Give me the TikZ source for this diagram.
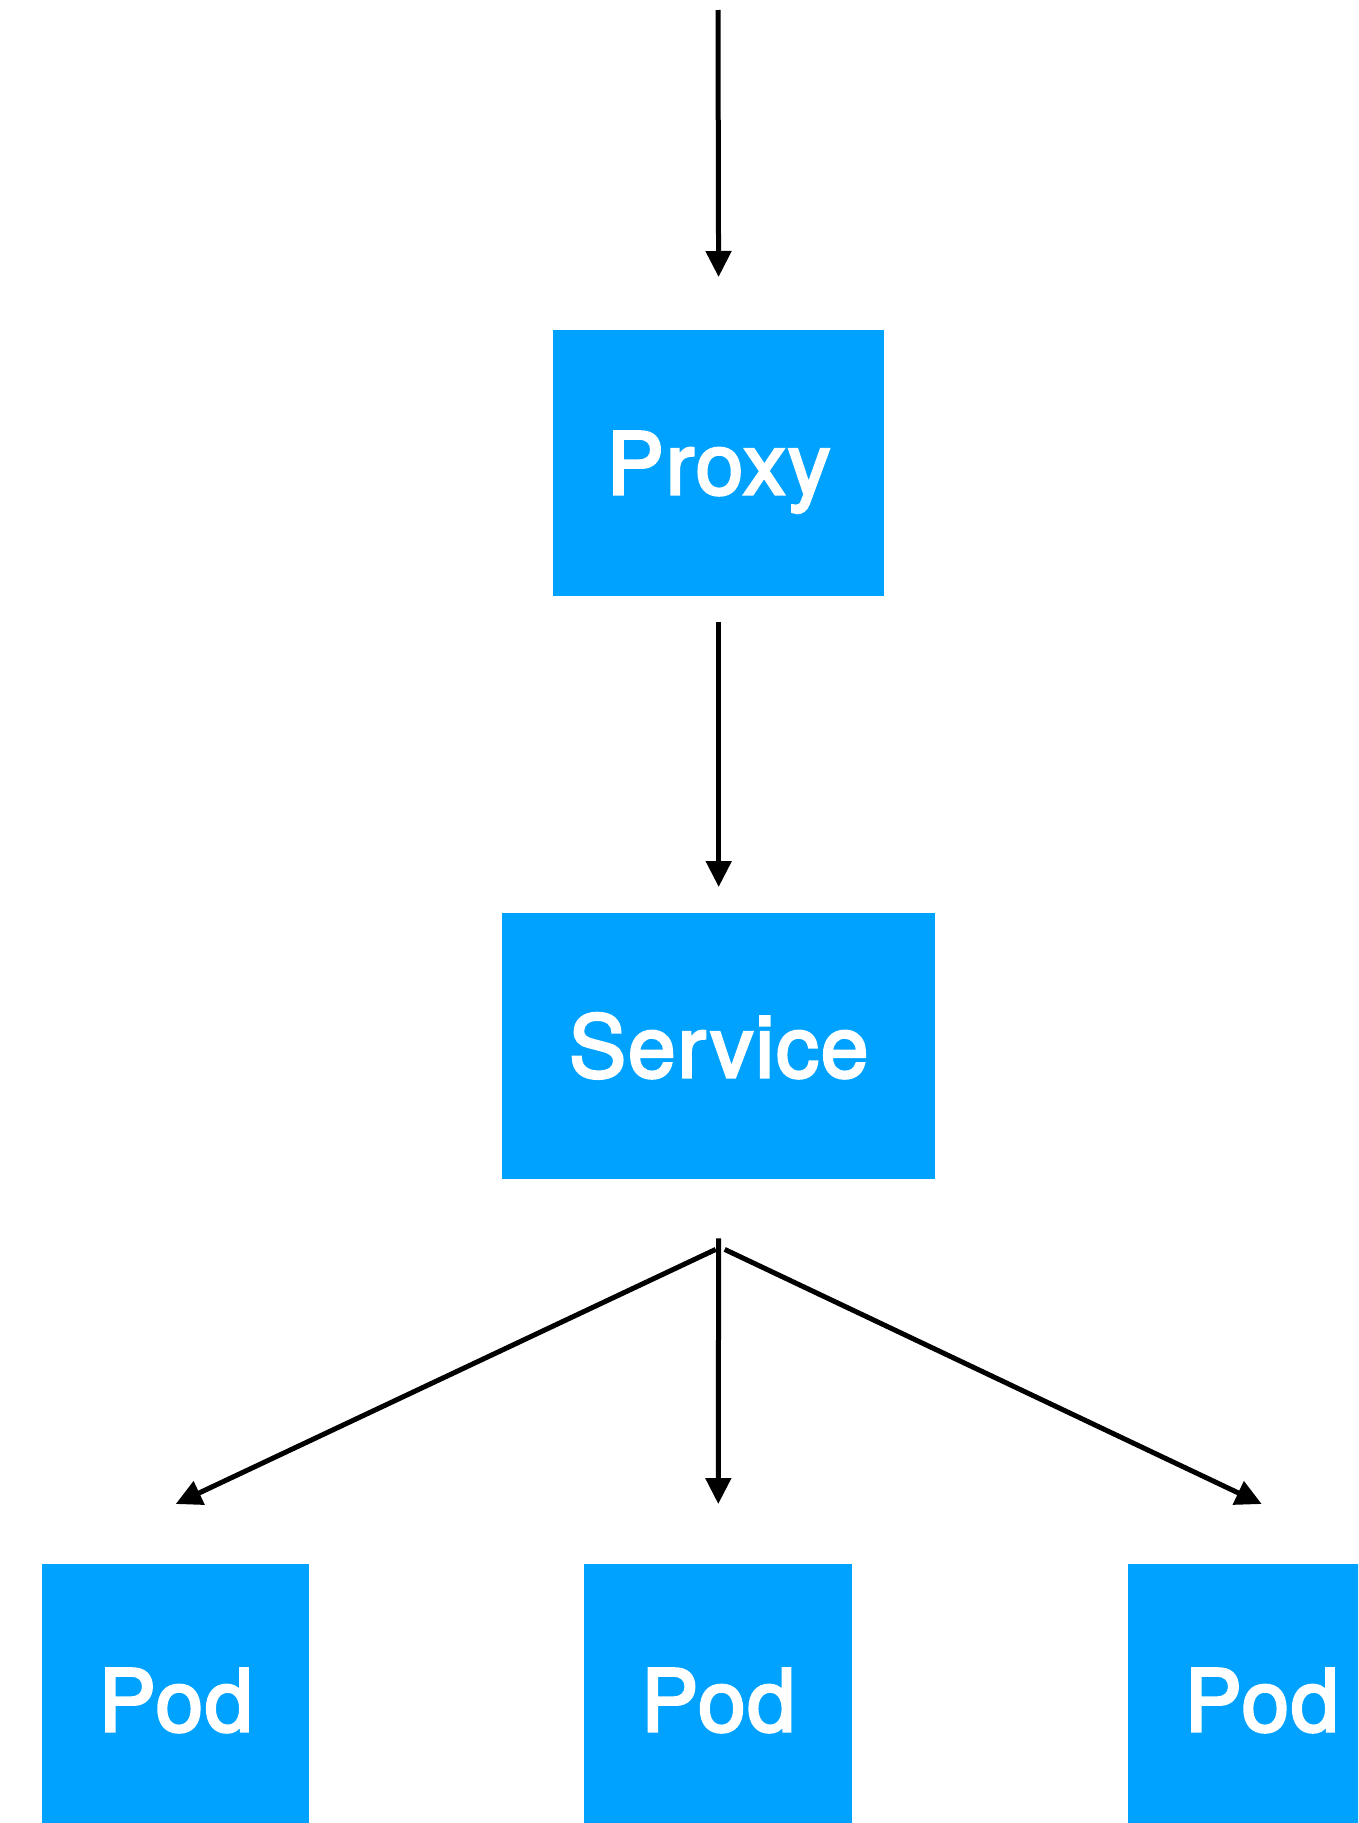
\documentclass[tikz,border=0pt]{standalone}
\usepackage{fontspec}
\setmainfont{TeX Gyre Heros}
\newfontfamily\medfont{TeX Gyre Heros}[FakeBold=3,LetterSpace=2]
\usetikzlibrary{arrows.meta,calc}
\definecolor{boxblue}{HTML}{00A2FF}
\begin{document}
\begin{tikzpicture}[x=1pt,y=-1pt,
  box/.style={fill=boxblue,draw=none,text=white,inner sep=0pt,anchor=north west,
    text height=62pt,text depth=0pt,
    font=\medfont\fontsize{86}{100}\selectfont},
  arr/.style={line width=5pt,-{Triangle[length=26pt,width=25pt]}}]
\clip (0,0) rectangle (1358,1823);
\node[box,minimum width=331pt,minimum height=266pt] (proxy) at (553,330) {Proxy};
\node[box,minimum width=433pt,minimum height=266pt] (service) at (502,913) {Service};
\node[box,minimum width=267pt,minimum height=272pt] (pod1) at (42,1564) {Pod};
\node[box,minimum width=268pt,minimum height=272pt] (pod2) at (584,1564) {Pod};
\node[box,minimum width=267pt,minimum height=272pt] (pod3) at (1128,1564) {Pod};
\coordinate (top) at (718,10);
\draw[arr,shorten >=53pt] (top) -- (proxy.north);
\draw[arr,shorten <=26pt,shorten >=26pt] (proxy.south) -- (service.north);
\draw[arr,shorten <=59pt,shorten >=60pt] (service.south) -- (pod2.north);
\draw[arr] ($(service.south)+(-3,70)$) -- ($(pod1.north)+(0,-60)$);
\draw[arr] ($(service.south)+(6,70)$) -- ($(pod3.north)+(0,-60)$);
\end{tikzpicture}
\end{document}
